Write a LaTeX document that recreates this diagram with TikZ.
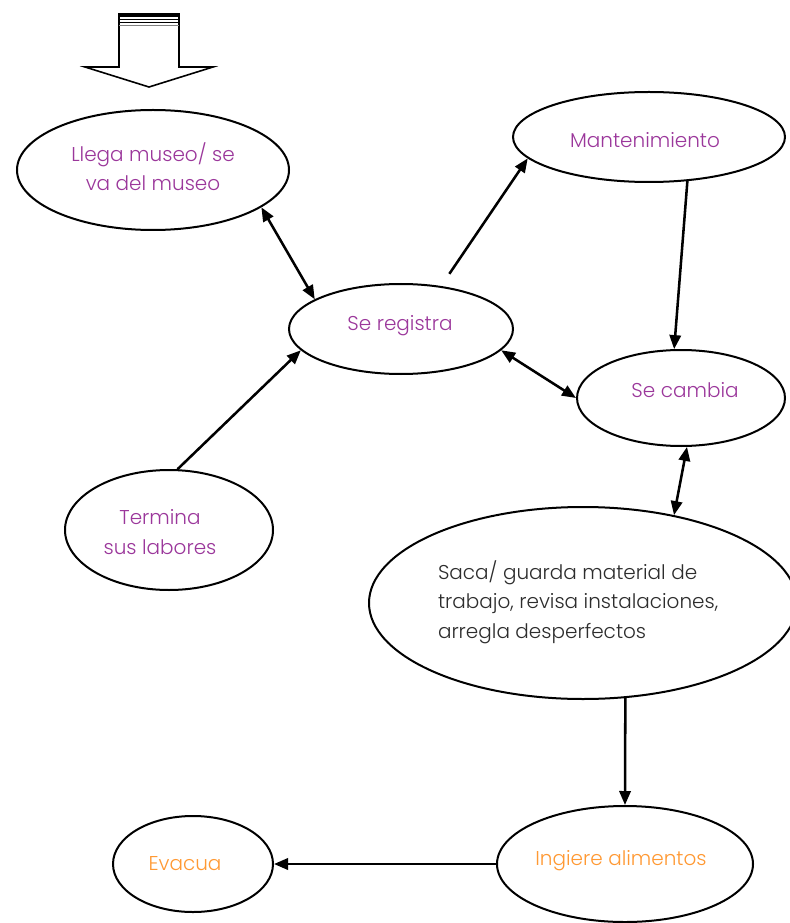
\documentclass[tikz,border=0pt]{standalone}
\usepackage{fontspec}
\setmainfont{Poppins}[UprightFont={* Light}]
\usetikzlibrary{shapes.geometric,arrows.meta}
\definecolor{purp}{RGB}{155,55,155}
\definecolor{orng}{RGB}{255,153,51}
\definecolor{dgray}{RGB}{45,45,45}
\newcommand\pxu[1]{#1*0.75pt}
\begin{document}
\begin{tikzpicture}[x=0.75pt,y=-0.75pt,line width=1.5pt,
  >={Triangle[length=10.5pt,width=8.5pt]},
  bub/.style={draw,ellipse,inner sep=0pt,line width=1.5pt},
  lab/.style={font=\fontsize{15}{22}\selectfont,align=center,inner sep=0pt},
  conn/.style={line width=1.9pt}]
\useasboundingbox (0,0) rectangle (789,923);
\fill[white] (0,0) rectangle (789,923);
% top block arrow
\draw[line width=1.2pt,fill=white,line join=miter] (119,16) -- (119,67) -- (85,67) -- (149,87) -- (213,67) -- (179,67) -- (179,16);
\fill (118,13) rectangle (180,17);
\draw[line width=0.8pt] (119,19.5) -- (179,19.5);
\draw[line width=0.8pt] (119,22.5) -- (179,22.5);
\draw[line width=0.6pt,gray] (119,25) -- (179,25);
% ellipses
\node[bub,minimum width=\pxu{272},minimum height=\pxu{120}] (llega) at (153,170) {};
\node[bub,minimum width=\pxu{272},minimum height=\pxu{90}] (mant) at (649,137) {};
\node[bub,minimum width=\pxu{224},minimum height=\pxu{90}] (reg) at (401,329) {};
\node[bub,minimum width=\pxu{208},minimum height=\pxu{96}] (camb) at (681,398) {};
\node[bub,minimum width=\pxu{208},minimum height=\pxu{120}] (term) at (169,530) {};
\node[bub,minimum width=\pxu{428},minimum height=\pxu{192}] (saca) at (583,603) {};
\node[bub,minimum width=\pxu{256},minimum height=\pxu{116}] (ing) at (625,864) {};
\node[bub,minimum width=\pxu{160},minimum height=\pxu{96}] (evac) at (193,864) {};
% texts
\node[lab,text=purp] (tllega) at (153,167) {Llega museo/ se\\va del museo};
\node[lab,text=purp] (tmant) at (645,140) {Mantenimiento};
\node[lab,text=purp] (treg) at (400,326) {Se registra};
\node[lab,text=purp] (tcamb) at (685,390) {Se cambia};
\node[lab,text=purp] (tterm) at (160,532) {Termina\\sus labores};
\node[lab,text=dgray,align=left,anchor=west] (tsaca) at (437,602) {Saca/ guarda material de\\trabajo, revisa instalaciones,\\arregla desperfectos};
\node[lab,text=orng] (ting) at (621,861) {Ingiere alimentos};
\node[lab,text=orng] (tevac) at (185,864) {Evacua};
% connectors
\draw[conn,<->] (llega.-19) -- (reg.161);
\draw[conn,->,shorten <=11pt] (reg.47) -- (mant.190);
\draw[conn,->] (mant.-49) -- (camb.98);
\draw[conn,->] (term.82) -- (reg.192);
\draw[conn,<->] (reg.-12) -- (camb.180);
\draw[conn,<->] (camb.-83) -- (saca.44);
\draw[conn,->] (saca.-66) -- (ing.90);
\draw[conn,->] (ing.180) -- (evac.0);
\end{tikzpicture}
\end{document}
